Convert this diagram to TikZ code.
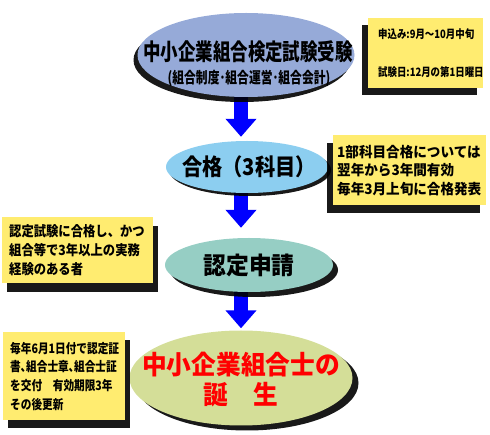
\documentclass[tikz,border=0pt]{standalone}
\usepackage{fontspec}
\setmainfont{Noto Sans CJK JP}
\newfontfamily\jpA[FakeStretch=0.76]{Noto Sans CJK JP}
\newfontfamily\jpB[FakeStretch=0.82]{Noto Sans CJK JP}
\newfontfamily\jpC[FakeStretch=0.88]{Noto Sans CJK JP}
\newfontfamily\jpD[FakeStretch=0.95]{Noto Sans CJK JP}
\usetikzlibrary{positioning,shapes.geometric,shadows,backgrounds,arrows.meta}
\definecolor{flowblue}{RGB}{0,0,255}
\definecolor{noteyellow}{RGB}{255,236,112}
\definecolor{ellA}{RGB}{150,170,216}
\definecolor{ellB}{RGB}{140,206,240}
\definecolor{ellC}{RGB}{150,206,196}
\definecolor{ellD}{RGB}{212,222,152}
\tikzset{
  stepell/.style={ellipse, draw=none, inner sep=0pt},
  steptxt/.style={align=center, inner sep=0pt},
  notebox/.style={rectangle, draw=none, fill=noteyellow, anchor=north west,
                  align=left, inner ysep=0pt},
  flowarr/.style={draw=flowblue, line width=14pt,
                  -{Triangle[width=30pt,length=18pt]}},
  shad/.style 2 args={drop shadow={shadow xshift=#1pt, shadow yshift=-#2pt,
                  fill=black, opacity=0.9}},
}
\newcommand{\noteA}{\fontsize{11.5}{14}\jpB\bfseries}
\newcommand{\noteB}{\fontsize{14.3}{18.5}\jpD\bfseries}
\newcommand{\noteC}{\fontsize{14}{19}\jpC\bfseries}
\newcommand{\noteD}{\fontsize{13}{18.7}\jpB\bfseries}

\begin{document}
\begin{tikzpicture}[x=1pt,y=-1pt]
  \useasboundingbox (0,0) rectangle (490,435);

  \node[stepell, fill=ellA, minimum width=217pt, minimum height=84pt, shad={-4}{5}] (e1) at (246,55) {};
  \node[stepell, fill=ellB, minimum width=162pt, minimum height=52pt, shad={3}{3}] (e2) at (247,167) {};
  \node[stepell, fill=ellC, minimum width=168pt, minimum height=54pt, shad={5}{5}] (e3) at (249,265) {};
  \node[stepell, fill=ellD, minimum width=223pt, minimum height=95pt, shad={6}{5}] (e4) at (241,378) {};

  \node[steptxt, font=\fontsize{23}{28}\jpA\bfseries] (e1t) at (248,52) {中小企業組合検定試験受験};
  \node[steptxt, font=\fontsize{15.5}{18}\jpA\bfseries] (e1s) at (249,78) {(組合制度･組合運営･組合会計)};
  \node[steptxt, font=\fontsize{23}{27}\jpC\bfseries] (e2t) at (249,167) {合格（3科目）};
  \node[steptxt, font=\fontsize{24}{28}\jpD\bfseries] (e3t) at (e3.center) {認定申請};
  \node[steptxt, font=\fontsize{26}{30}\jpD\bfseries, text=red] (e4t) at ([yshift=-2pt]e4.center)
    {中小企業組合士の\\ 誕　生};

  \node[notebox, minimum width=115pt, minimum height=70pt, text width=95pt,
        inner xsep=10pt, font=\noteA, shad={-6}{7}] (b1) at (368,18)
    {申込み:9月～10月中旬\\[24pt] 試験日:12月の第1日曜日};
  \node[notebox, minimum width=153pt, minimum height=70pt, text width=145pt,
        inner xsep=4pt, font=\noteB, shad={-6}{8}] (b2) at (333,135)
    {1部科目合格については\\ 翌年から3年間有効\\ 毎年3月上旬に合格発表};
  \node[notebox, minimum width=151pt, minimum height=66pt, text width=137pt,
        inner xsep=7pt, font=\noteC, shad={5}{9}] (b3) at (2,217)
    {認定試験に合格し、かつ\\ 組合等で3年以上の実務\\ 経験のある者};
  \node[notebox, minimum width=122pt, minimum height=88pt, text width=108pt,
        inner xsep=7pt, font=\noteD, shad={5}{8}] (b4) at (3,332)
    {毎年6月1日付で認定証\\ 書､組合士章､組合士証\\ を交付　有効期限3年\\ その後更新};

  \begin{scope}[on background layer]
    \draw[flowarr, shorten >=4pt] (e1.center -| e4.center) -- (e2.north -| e4.center);
    \draw[flowarr, shorten >=10pt] (e2.center -| e4.center) -- (e3.north -| e4.center);
    \draw[flowarr, shorten >=2pt] (e3.center -| e4.center) -- (e4.north);
  \end{scope}

\end{tikzpicture}
\end{document}
